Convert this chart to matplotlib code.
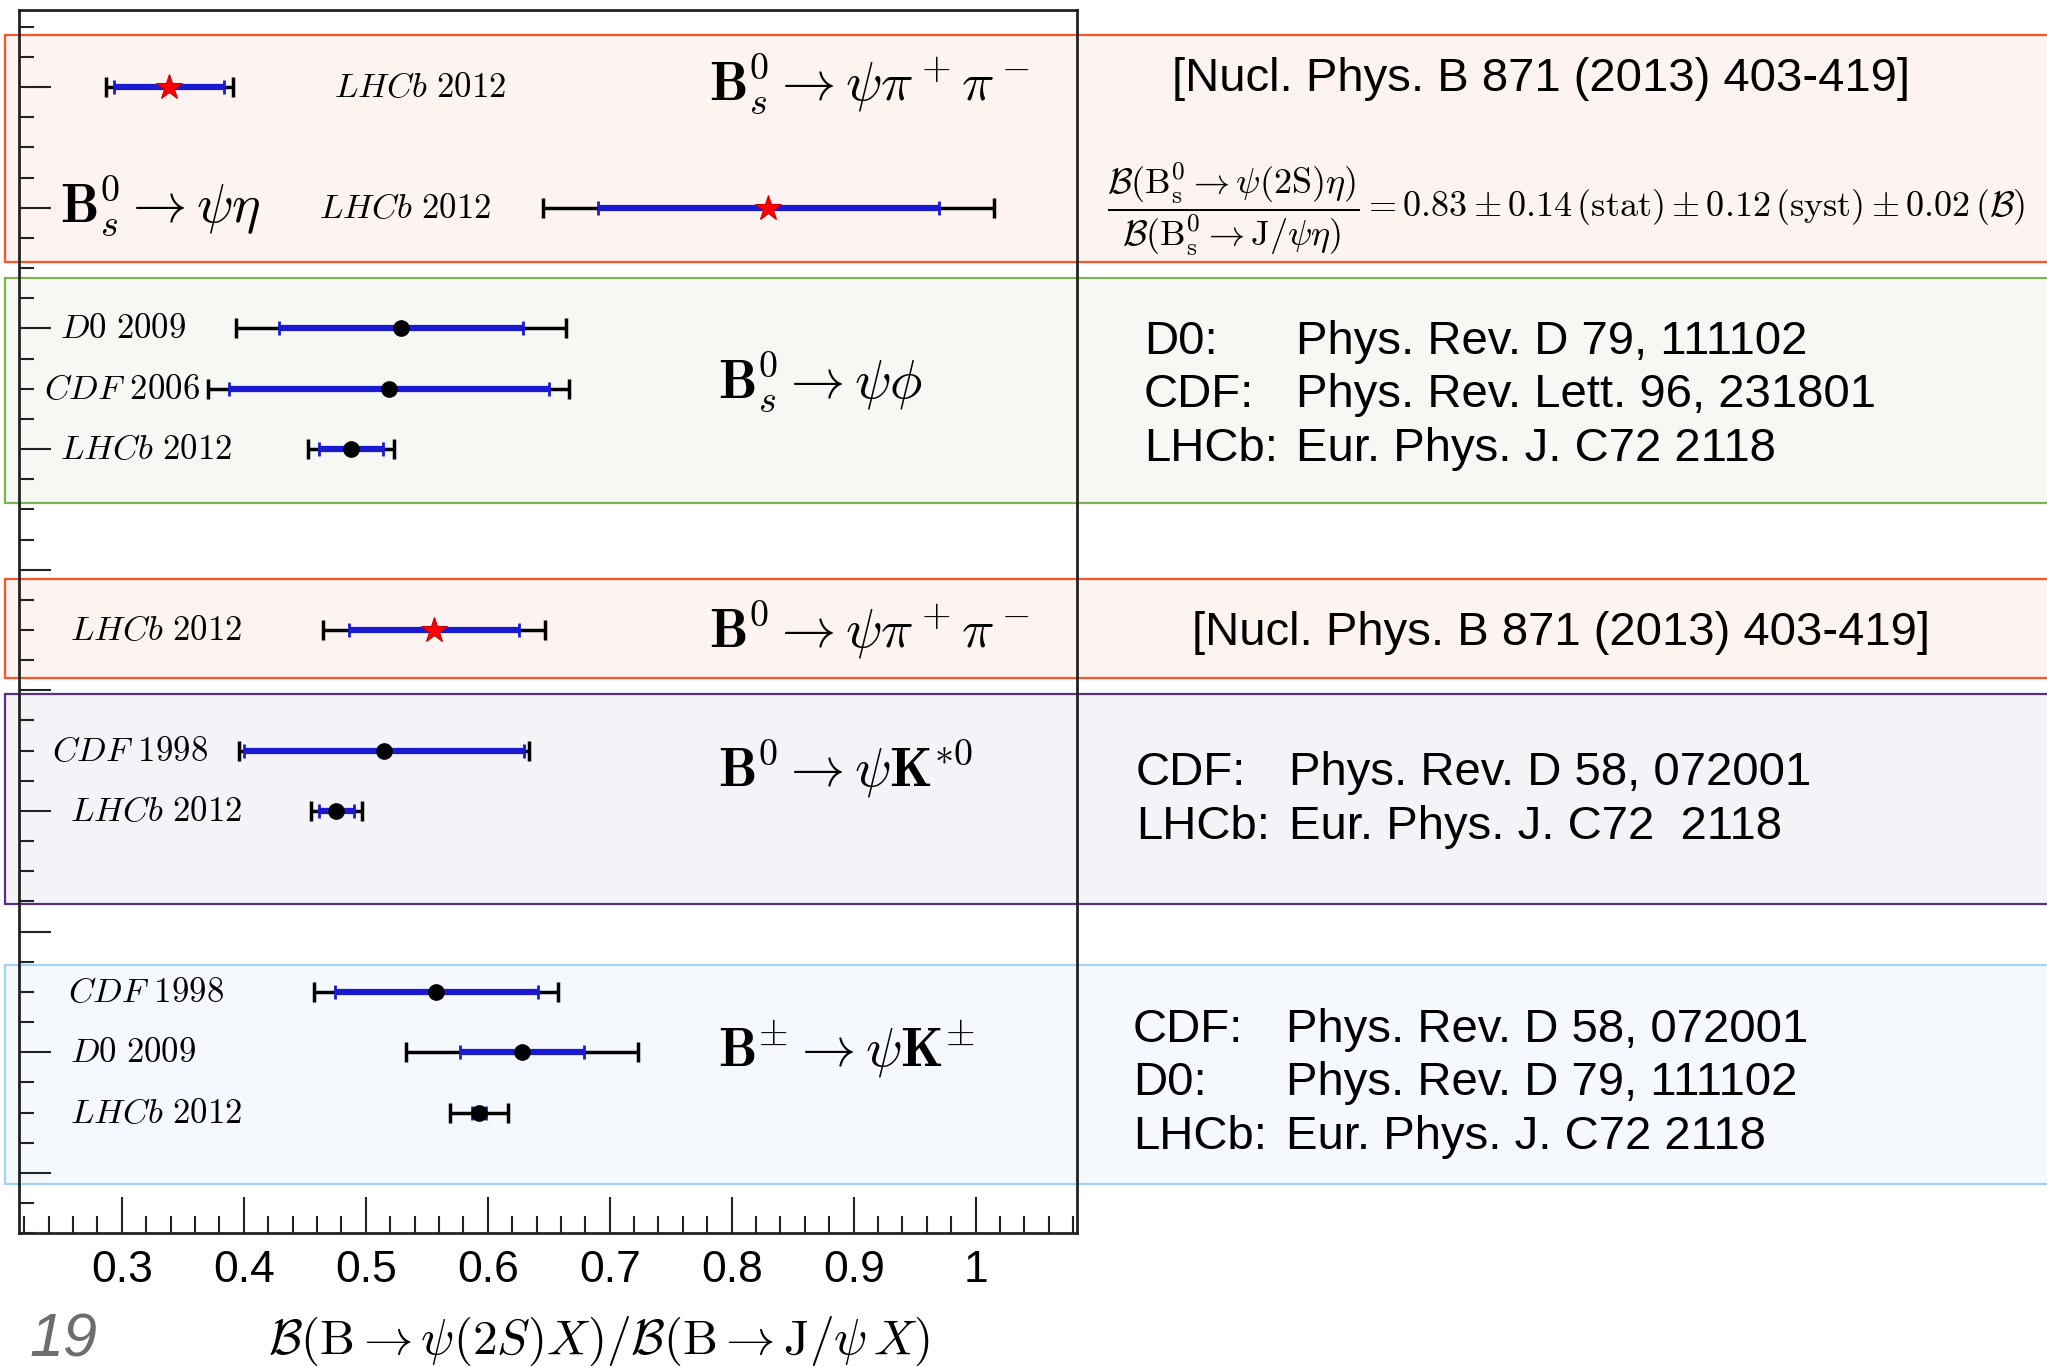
import numpy as np
import matplotlib.pyplot as plt
from matplotlib.patches import Rectangle
from matplotlib.ticker import MultipleLocator, FixedLocator

plt.rcParams['mathtext.fontset'] = 'cm'

# Measurements: ratio B(B -> psi(2S) X) / B(B -> J/psi X)
rows = [19, 17, 15, 14, 13, 10, 8, 7, 4, 3, 2]
experiments = ['LHCb 2012', 'LHCb 2012', 'D0 2009', 'CDF 2006', 'LHCb 2012',
               'LHCb 2012', 'CDF 1998', 'LHCb 2012', 'CDF 1998', 'D0 2009', 'LHCb 2012']
values = [0.339, 0.830, 0.529, 0.519, 0.488, 0.556, 0.515, 0.476, 0.558, 0.628, 0.593]
stat_err = [0.045, 0.14, 0.100, 0.131, 0.026, 0.070, 0.115, 0.014, 0.083, 0.051, 0.006]
total_err = [0.052, 0.185, 0.135, 0.148, 0.0355, 0.091, 0.119, 0.021, 0.100, 0.095, 0.0236]
is_new = [True, True, False, False, False, True, False, False, False, False, False]

decays = [r'$\mathbf{B}_s^0 \rightarrow \psi\pi^+\pi^-$',
          r'$\mathbf{B}_s^0 \rightarrow \psi\eta$',
          r'$\mathbf{B}_s^0 \rightarrow \psi\phi$',
          r'$\mathbf{B}^0 \rightarrow \psi\pi^+\pi^-$',
          r'$\mathbf{B}^0 \rightarrow \psi\mathbf{K}^{*0}$',
          r'$\mathbf{B}^{\pm} \rightarrow \psi\mathbf{K}^{\pm}$']

references = [
    [('[Nucl. Phys. B 871 (2013) 403-419]', '')],
    [('D0:', 'Phys. Rev. D 79, 111102'),
     ('CDF:', 'Phys. Rev. Lett. 96, 231801'),
     ('LHCb:', 'Eur. Phys. J. C72 2118')],
    [('[Nucl. Phys. B 871 (2013) 403-419]', '')],
    [('CDF:', 'Phys. Rev. D 58, 072001'),
     ('LHCb:', 'Eur. Phys. J. C72  2118')],
    [('CDF:', 'Phys. Rev. D 58, 072001'),
     ('D0:', 'Phys. Rev. D 79, 111102'),
     ('LHCb:', 'Eur. Phys. J. C72 2118')],
]

eta_formula = (r'$\dfrac{\mathcal{B}(\mathrm{B_s^0} \rightarrow \psi(2\mathrm{S})\eta)}'
               r'{\mathcal{B}(\mathrm{B_s^0} \rightarrow \mathrm{J}/\psi\eta)}'
               r' = 0.83 \pm 0.14\,(\mathrm{stat}) \pm 0.12\,(\mathrm{syst}) \pm 0.02\,(\mathcal{B})$')

W, H = 2047, 1367
fig = plt.figure(figsize=(W / 100, H / 100), dpi=100)


def fx(x):
    return x / W


def fy(y):
    return 1 - y / H


# coloured slide boxes (pixel top, bottom, face, edge)
boxes = [(35.5, 262, '#fdf4f1', '#ff5226'),
         (277.5, 503, '#f6f8f4', '#7ab552'),
         (578.5, 678, '#fdf4f1', '#ff5226'),
         (693.5, 904, '#f4f3f8', '#5b2f86'),
         (965, 1184, '#f5f9fe', '#9fd3f7')]
for top, bot, fc, ec in boxes:
    fig.patches.append(Rectangle((fx(4.5), fy(bot)), 1.1, (bot - top) / H,
                                 transform=fig.transFigure, facecolor=fc,
                                 edgecolor=ec, linewidth=1.6, zorder=0))

ax = fig.add_axes([fx(19), fy(1233.3), fx(1076.7 - 19), (1233.3 - 9.5) / H])
ax.set_zorder(2)
ax.patch.set_alpha(0)
ax.set_xlim(0.2158, 1.0828)
ax.set_ylim(0, 20.285)

for i in range(len(rows)):
    ax.errorbar(values[i], rows[i], xerr=total_err[i], fmt='none', ecolor='black',
                elinewidth=2.5, capsize=7, capthick=2.5, zorder=3)
    ax.errorbar(values[i], rows[i], xerr=stat_err[i], fmt='none', ecolor='#1a1ad0',
                elinewidth=4.5, capsize=5, capthick=2, zorder=4)
    if is_new[i]:
        ax.plot(values[i], rows[i], marker='*', color='red', markersize=19,
                markeredgecolor='#cc0000', markeredgewidth=0.8, zorder=5)
    else:
        ax.plot(values[i], rows[i], marker='o', color='black', markersize=11, zorder=5)

# experiment labels
label_x = [0.474, 0.462, 0.2494, 0.2363, 0.2494, 0.2576, 0.2429, 0.2576, 0.256, 0.2576, 0.2576]
for i, name in enumerate(experiments):
    exp, year = name.split()
    ax.text(label_x[i], rows[i], r'$\mathit{%s}\ %s$' % (exp, year), fontsize=25,
            ha='left', va='center', zorder=6)

# decay labels
decay_pos = [(0.7814, 18.78), (0.2494, 16.76), (0.789, 13.84),
             (0.7814, 9.71), (0.789, 7.40), (0.789, 2.77)]
for txt, (x, y) in zip(decays, decay_pos):
    ax.text(x, y, txt, fontsize=39, ha='left', va='baseline', zorder=6)

ax.xaxis.set_major_locator(FixedLocator([0.3, 0.4, 0.5, 0.6, 0.7, 0.8, 0.9, 1.0]))
ax.xaxis.set_major_formatter(plt.FixedFormatter(['0.3', '0.4', '0.5', '0.6', '0.7', '0.8', '0.9', '1']))
ax.xaxis.set_minor_locator(MultipleLocator(0.02))
ax.yaxis.set_major_locator(FixedLocator(np.arange(1, 20, 2)))
ax.yaxis.set_minor_locator(MultipleLocator(0.5))
ax.set_yticklabels([])
ax.tick_params(axis='both', which='both', direction='in', top=False, right=False,
               color='#222222')
ax.tick_params(axis='x', which='major', length=26, width=1.5, pad=12, labelsize=32)
ax.tick_params(axis='x', which='minor', length=12, width=1.5)
ax.tick_params(axis='y', which='major', length=23, width=1.5)
ax.tick_params(axis='y', which='minor', length=11, width=1.5)
for lab in ax.get_xticklabels():
    lab.set_family('Liberation Sans')
for sp in ax.spines.values():
    sp.set_linewidth(2)
    sp.set_color('#222222')

fig.text(fx(599), fy(1341), r'$\mathcal{B}(\mathrm{B} \rightarrow \psi(2S)X)/\mathcal{B}(\mathrm{B} \rightarrow \mathrm{J}/\psi\,X)$',
         fontsize=35.5, ha='center', va='center')
fig.text(fx(29), fy(1341), '19', fontsize=44, style='italic', color='#6d6d6d',
         family='Liberation Sans', ha='left', va='center')

# references on the right
dy = 5
fig.text(fx(1541), fy(74 + dy), references[0][0][0], fontsize=34, family='Liberation Sans',
         ha='center', va='center')
fig.text(fx(1107), fy(209), eta_formula, fontsize=26, ha='left', va='center')
ref_rows = [(1144, 1296, [337, 390, 444]),
            (1188, None, [628]),
            (1136, 1289, [768, 822]),
            (1133, 1286, [1025, 1078, 1132])]
for (x0, x1, ys), block in zip(ref_rows, references[1:]):
    for y, (a, b) in zip(ys, block):
        if x1 is None:
            fig.text(fx(1561), fy(y + dy), a, fontsize=34, family='Liberation Sans',
                     ha='center', va='center')
        else:
            fig.text(fx(x0), fy(y + dy), a, fontsize=34, family='Liberation Sans',
                     ha='left', va='center')
            fig.text(fx(x1), fy(y + dy), b, fontsize=34, family='Liberation Sans',
                     ha='left', va='center')

fig.savefig('out.png', dpi=100)
